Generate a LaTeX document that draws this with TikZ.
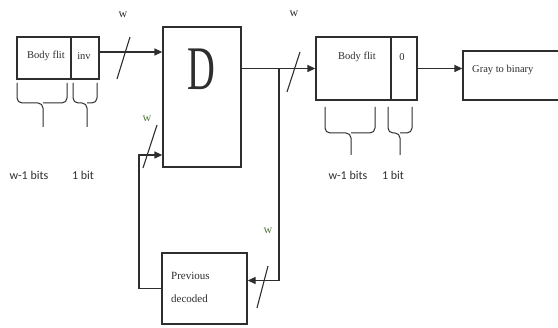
\documentclass[tikz,border=0pt]{standalone}
\usepackage{fontspec}
\usepackage{graphicx}
\setmainfont{Liberation Serif}
\newfontfamily\cbfont{Carlito}
\usetikzlibrary{arrows.meta,decorations.pathmorphing}
\definecolor{ln}{HTML}{2E2E2E}
\definecolor{wgreen}{HTML}{4E7A3A}
\tikzset{
  box/.style={draw=ln,line width=1.3pt,rectangle,inner sep=0pt},
  arr/.style={draw=ln,line width=1.3pt,-{Triangle[length=8pt,width=7pt]}},
  wire/.style={draw=ln,line width=1.3pt},
  slash/.style={draw=ln,line width=1.1pt},
  brc/.style={draw=ln,line width=1pt,rounded corners=5pt},
  lbl/.style={font=\fontsize{10.5}{12}\selectfont,text=ln,inner sep=0pt},
  bits/.style={font=\cbfont\fontsize{12}{14}\selectfont,text=ln,inner sep=0pt},
  wl/.style={font=\fontsize{12}{14}\selectfont,text=ln,inner sep=0pt},
  wg/.style={font=\fontsize{12}{14}\selectfont,text=wgreen,inner sep=0pt},
}
\begin{document}
\begin{tikzpicture}[x=1pt,y=-1pt]
\useasboundingbox (0,0) rectangle (558,328);
% left register
\node[box,minimum width=54pt,minimum height=42pt] (lbody) at (44,58) {};
\node[box,minimum width=28pt,minimum height=42pt] (linv) at (85,58) {};
\node[lbl] (lbodyt) at (46,56) {Body flit};
\node[lbl] (linvt) at (84,56) {inv};
% D block
\node[box,minimum width=78pt,minimum height=140pt] (D) at (202,97) {};
\node[inner sep=0pt,text=ln] (Dt) at (201,69) {\scalebox{0.62}[1]{\fontsize{62}{64}\selectfont D}};
% right register
\node[box,minimum width=75pt,minimum height=63pt] (rbody) at (353.5,68.5) {};
\node[box,minimum width=26pt,minimum height=63pt] (rzero) at (404,68.5) {};
\node[lbl] (rbodyt) at (357,57) {Body flit};
\node[lbl] (rzerot) at (402,57) {0};
% gray to binary
\node[box,minimum width=107pt,minimum height=49pt] (gray) at (516.5,75.5) {};
\node[lbl,anchor=west] (grayt) at (472,70) {Gray to binary};
% previous decoded
\node[box,minimum width=85pt,minimum height=71pt] (prev) at (204.5,288.5) {};
\node[lbl,anchor=west,align=left,font=\fontsize{11}{23}\selectfont] (prevt) at (171,287) {Previous\\decoded};
% connectors
\coordinate (a1) at ([yshift=6pt]linv.east);
\draw[arr] (a1) -- (D.west |- a1);
\coordinate (j) at (279,68.5);
\draw[wire] (D.east |- rbody.west) -- (j);
\draw[arr] (j) -- (rbody.west);
\draw[arr] (j) |- ([yshift=8pt]prev.east);
\coordinate (fb) at (139,155);
\draw[arr] (prev.west) -| (fb) -- (D.west |- fb);
\draw[arr] (rzero.east) -- (gray.west |- rzero.east);
% bus slashes
\draw[slash] (117,79) -- (130,37);
\draw[slash] (287,92) -- (300,52);
\draw[slash] (143,168) -- (157,125);
\draw[slash] (257,308) -- (268,266);
% w labels
\node[wl] (w1) at (123,15) {w};
\node[wl] (w2) at (294,14) {w};
\node[wg] (w3) at (147,119) {w};
\node[wg] (w4) at (268,231) {w};
% braces left
\draw[brc] (17,83) -- (17,103) -- (43,103) -- (43,127);
\draw[brc] (67,83) -- (67,103) -- (43,103);
\draw[brc] (73,83) -- (73,103) -- (87,103) -- (87,127);
\draw[brc] (97,83) -- (97,103) -- (87,103);
% braces right
\draw[brc] (325,107) -- (325,133) -- (351,133) -- (351,155);
\draw[brc] (375,107) -- (375,133) -- (351,133);
\draw[brc] (388,107) -- (388,133) -- (400,133) -- (400,155);
\draw[brc] (412,107) -- (412,133) -- (400,133);
% bit labels
\node[bits] (b1) at (29,175) {w-1 bits};
\node[bits] (b2) at (83,175) {1 bit};
\node[bits] (b3) at (348,175) {w-1 bits};
\node[bits] (b4) at (393,175) {1 bit};
\end{tikzpicture}
\end{document}
